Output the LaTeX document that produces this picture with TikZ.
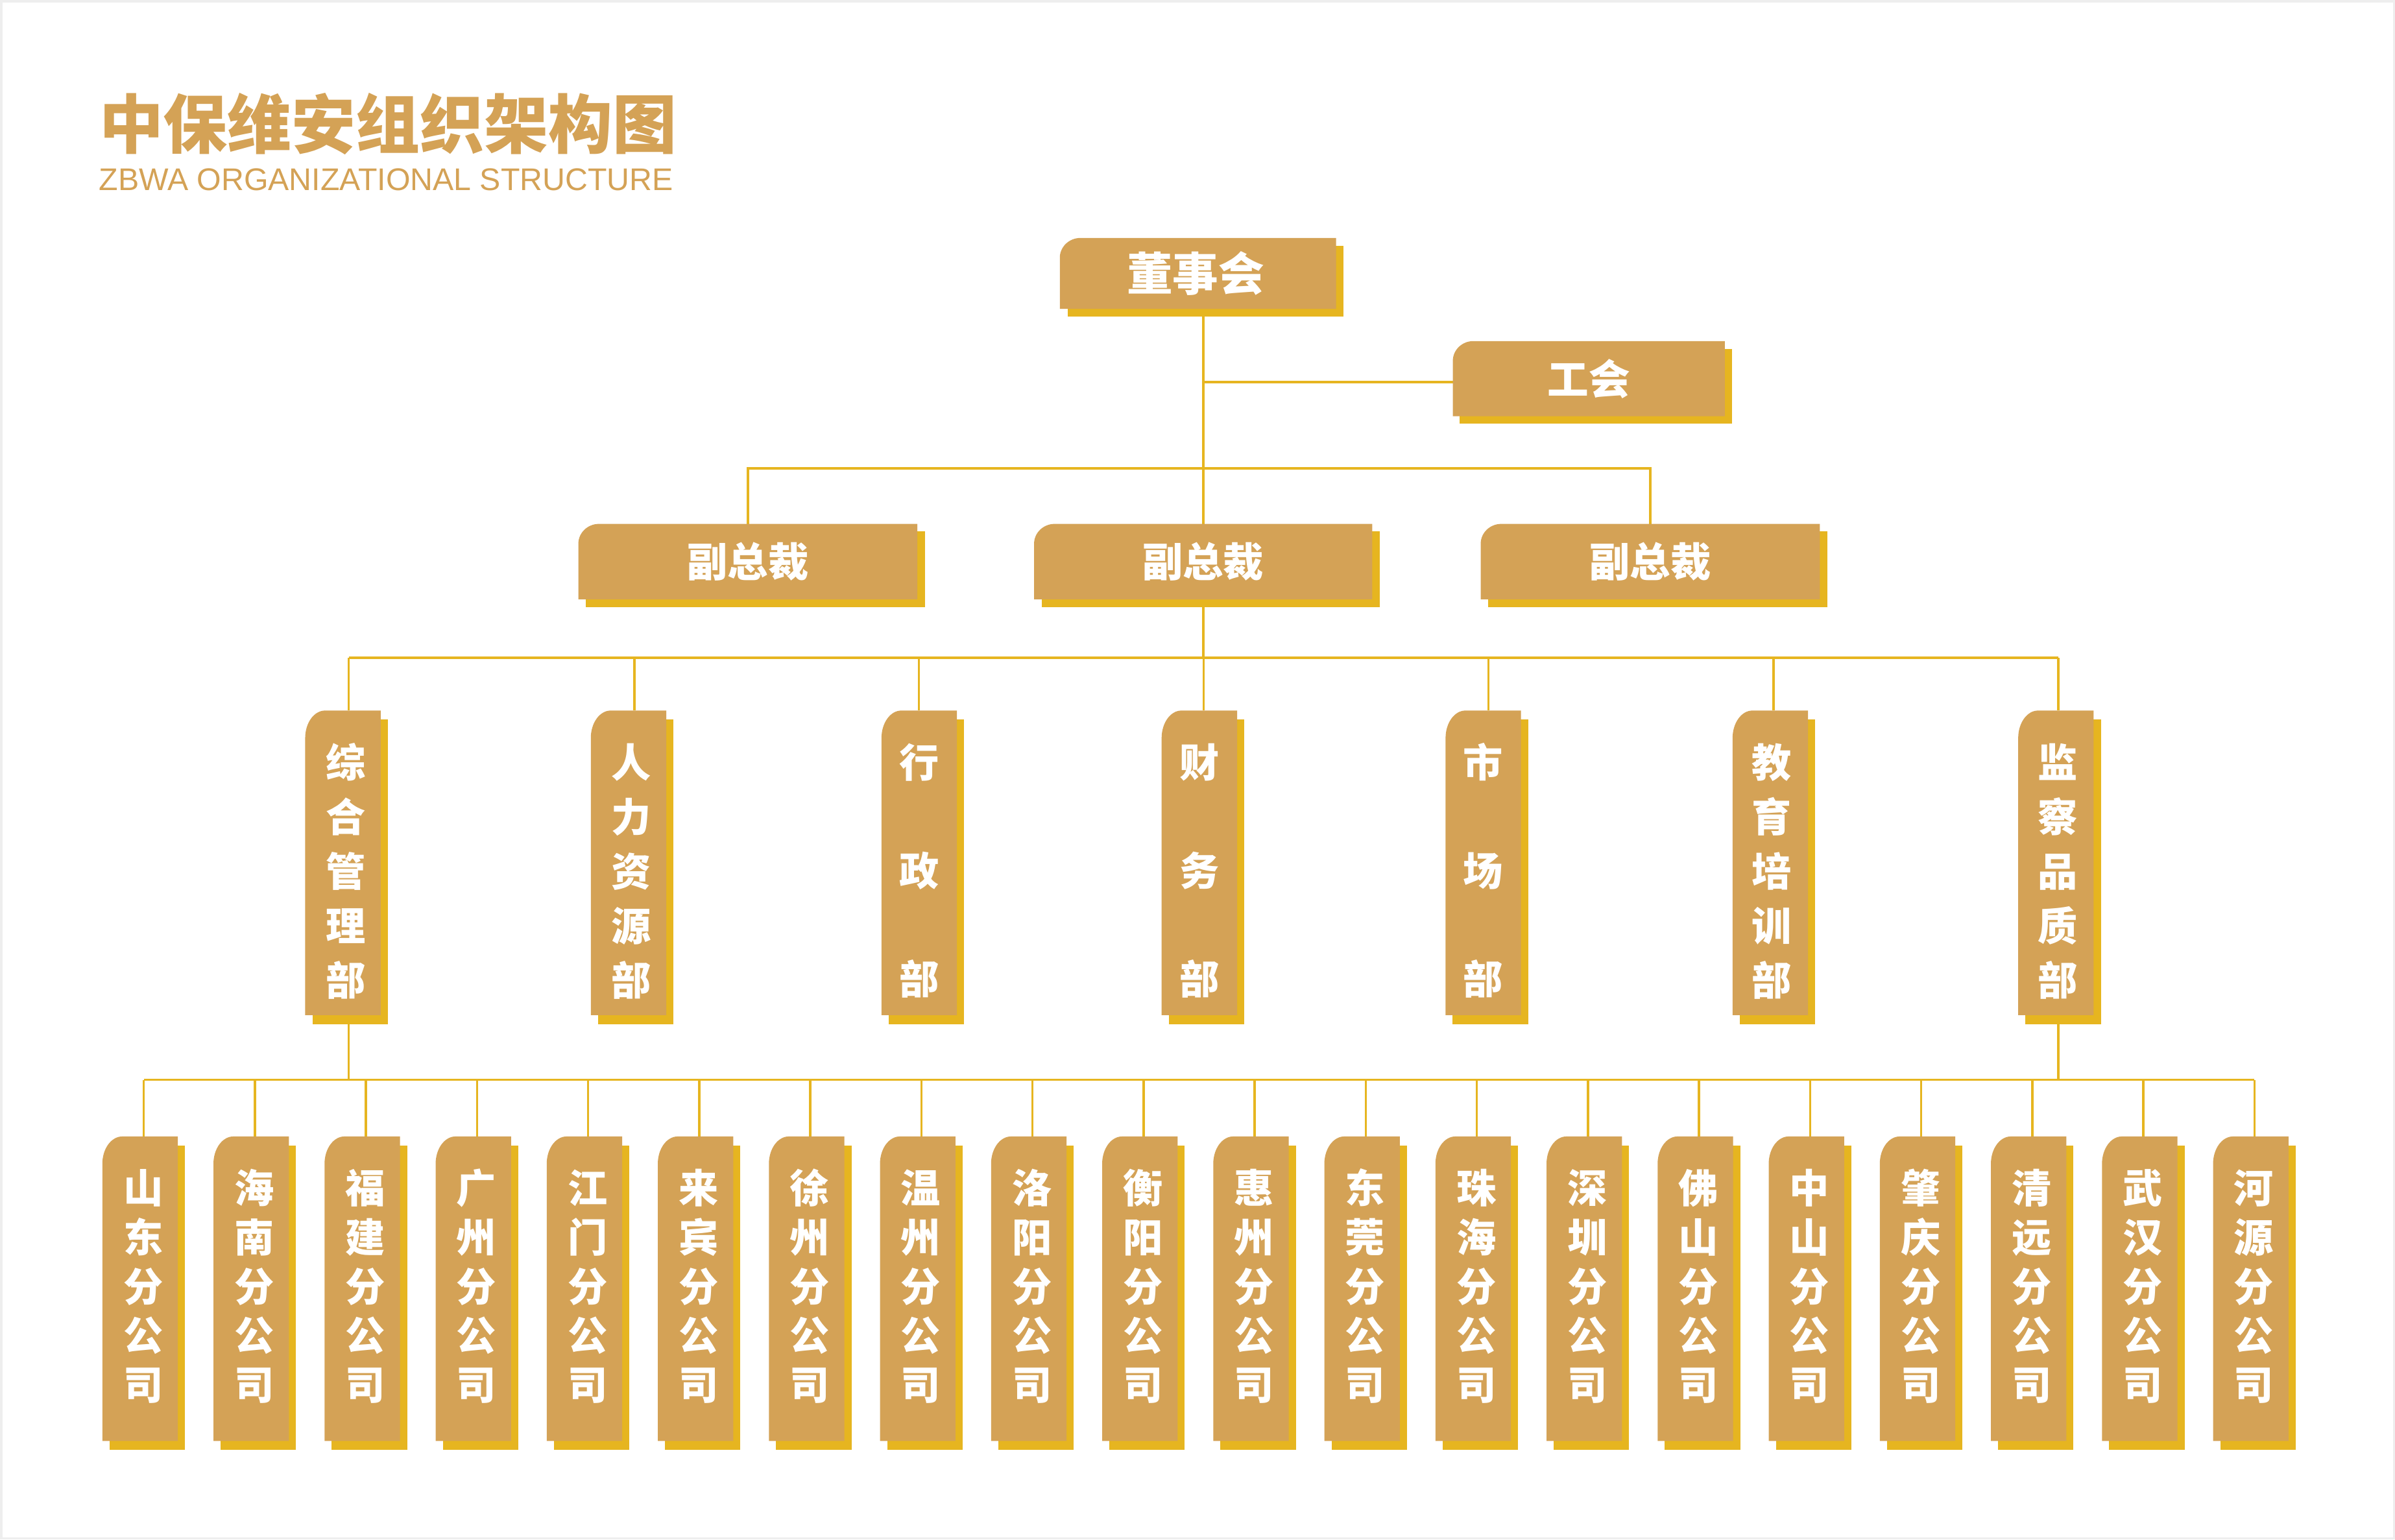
\documentclass[tikz,border=0pt]{standalone}
\usepackage{fontspec}
\newfontfamily\cjk{Noto Sans CJK SC}
\newfontfamily\lib{Liberation Sans}
\usetikzlibrary{calc}
\definecolor{boxc}{HTML}{D4A256}
\definecolor{shadc}{HTML}{E6B520}
\definecolor{linec}{HTML}{E6B520}
\definecolor{framec}{HTML}{EEEEEE}
\pgfdeclarelayer{bg}
\pgfdeclarelayer{lines}
\pgfdeclarelayer{boxes}
\pgfsetlayers{bg,lines,boxes,main}
% box shape: name, corner x radius, corner y radius, shadow dx, shadow dy
\newcommand\boxshape[5]{%
  \begin{pgfonlayer}{boxes}
    \fill[shadc] ([shift={(#4,-#5)}]#1.north west) rectangle ([shift={(#4,-#5)}]#1.south east);
    \fill[boxc] (#1.south west) -- (#1.south east) -- (#1.north east)
      -- ([xshift=#2]#1.north west)
      .. controls ([xshift=0.4477*#2]#1.north west) and ([yshift=-0.4477*#3]#1.north west)
      .. ([yshift=-#3]#1.north west) -- cycle;
  \end{pgfonlayer}}
% vertical label: baselineskip, text shift (x2), text
\newcommand\vlab[3]{\parbox[c][199pt][t]{49pt}{\centering\leftskip=#2 plus 1fil\fontsize{26}{#1}\selectfont\rule{0pt}{43.5pt}#3}}
\tikzset{
  hnode/.style={inner sep=0pt, text=white, font=\cjk\bfseries\fontsize{#1}{#1}\selectfont},
  vnode/.style={inner sep=0pt, text=white, font=\cjk\bfseries\fontsize{26}{26}\selectfont},
  conn/.style={draw=linec, line width=1.5pt},
}
\begin{document}
\begin{tikzpicture}[x=1pt,y=-1pt]
\useasboundingbox (0,0) rectangle (1568,1008);
\begin{pgfonlayer}{bg}
  \fill[white] (0,0) rectangle (1568,1008);
  \draw[framec, line width=1.5pt] (0.75,0.75) rectangle (1567.25,1007.25);
\end{pgfonlayer}

% title
\node[anchor=west, inner sep=0pt, font=\cjk\bfseries\fontsize{42}{42}\selectfont, text=boxc] (title) at (64.8,81.3) {中保维安组织架构图};
\node[anchor=base west, inner sep=0pt, font=\lib\fontsize{20.5}{20.5}\selectfont, text=boxc] (subtitle) at (64.6,124.6) {ZBWA ORGANIZATIONAL STRUCTURE};

% top boxes
\node[hnode=30, minimum width=180.5pt, minimum height=46pt] (dsh) at (784.3,179) {\hspace*{-3.2pt}董事会};
\boxshape{dsh}{13.5pt}{13pt}{5pt}{5pt}
\node[hnode=27, minimum width=177.7pt, minimum height=48.8pt] (gh) at (1040.2,247.9) {工会};
\boxshape{gh}{13.5pt}{13pt}{4.5pt}{5pt}
\node[hnode=26.5, minimum width=221.5pt, minimum height=49pt] (vp1) at (489.6,367.7) {副总裁};
\boxshape{vp1}{13.5pt}{13pt}{5pt}{5pt}
\node[hnode=26.5, minimum width=221pt, minimum height=49pt] (vp2) at (787.7,367.7) {副总裁};
\boxshape{vp2}{13.5pt}{13pt}{5pt}{5pt}
\node[hnode=26.5, minimum width=221.6pt, minimum height=49pt] (vp3) at (1080.4,367.7) {副总裁};
\boxshape{vp3}{13.5pt}{13pt}{5pt}{5pt}

\coordinate (j1) at (787.7,250.2);
\coordinate (bvp) at (787.7,306.6);
\coordinate (bd) at (787.7,430.6);
\coordinate (bb) at (787.7,707);

\begin{pgfonlayer}{lines}
  \draw[conn] (dsh.south -| vp2.north) -- (vp2.north);
  \draw[conn] (j1) -- (j1 -| gh.west);
  \draw[conn] (vp1.north) -- (vp1.north |- bvp) -- (vp3.north |- bvp) -- (vp3.north);
  \draw[conn] (vp2.south) -- (bd);
\end{pgfonlayer}

% departments
\foreach \n/\cx/\lx/\sh/\bs/\t in {
  d1/224.5/228.3/4.2pt/35.7/{综\\合\\管\\理\\部},
  d2/411.5/415.4/3.8pt/35.7/{人\\力\\资\\源\\部},
  d3/601.8/601.5/0pt/71/{行\\政\\部},
  d4/785.2/788/0pt/71/{财\\务\\部},
  d5/971.1/974.5/0pt/71/{市\\场\\部},
  d6/1159/1161.1/2pt/35.7/{教\\育\\培\\训\\部},
  d7/1346/1347.5/2.4pt/35.7/{监\\察\\品\\质\\部}} {
  \node[vnode] (\n) at (\cx,564.9) {\vlab{\bs}{\sh}{\t}};
  \boxshape{\n}{13pt}{18pt}{4.7pt}{5.9pt}
  \coordinate (t\n) at (\lx,430.6);
  \begin{pgfonlayer}{lines}
    \draw[conn] (t\n) -- (t\n |- \n.north);
  \end{pgfonlayer}
}
\begin{pgfonlayer}{lines}
  \draw[conn] (td1) -- (td7);
  \draw[conn] (td1 |- d1.south) -- (td1 |- bb);
  \draw[conn] (td7 |- d7.south) -- (td7 |- bb);
\end{pgfonlayer}

% branches
\foreach \i/\t in {
  0/{山\\东\\分\\公\\司}, 1/{海\\南\\分\\公\\司}, 2/{福\\建\\分\\公\\司},
  3/{广\\州\\分\\公\\司}, 4/{江\\门\\分\\公\\司}, 5/{来\\宾\\分\\公\\司},
  6/{徐\\州\\分\\公\\司}, 7/{温\\州\\分\\公\\司}, 8/{洛\\阳\\分\\公\\司},
  9/{衡\\阳\\分\\公\\司}, 10/{惠\\州\\分\\公\\司}, 11/{东\\莞\\分\\公\\司},
  12/{珠\\海\\分\\公\\司}, 13/{深\\圳\\分\\公\\司}, 14/{佛\\山\\分\\公\\司},
  15/{中\\山\\分\\公\\司}, 16/{肇\\庆\\分\\公\\司}, 17/{清\\远\\分\\公\\司},
  18/{武\\汉\\分\\公\\司}, 19/{河\\源\\分\\公\\司}} {
  \pgfmathsetmacro\lx{94.1+72.73*\i}
  \pgfmathsetmacro\cx{\lx-2.4}
  \node[vnode] (b\i) at (\cx,843.75) {\vlab{32.1}{4pt}{\t}};
  \boxshape{b\i}{13pt}{18pt}{4.7pt}{5.9pt}
  \coordinate (tb\i) at (\lx,707);
  \begin{pgfonlayer}{lines}
    \draw[conn] (tb\i) -- (tb\i |- b\i.north);
  \end{pgfonlayer}
}
\begin{pgfonlayer}{lines}
  \draw[conn] (tb0) -- (tb19);
\end{pgfonlayer}
\end{tikzpicture}
\end{document}
